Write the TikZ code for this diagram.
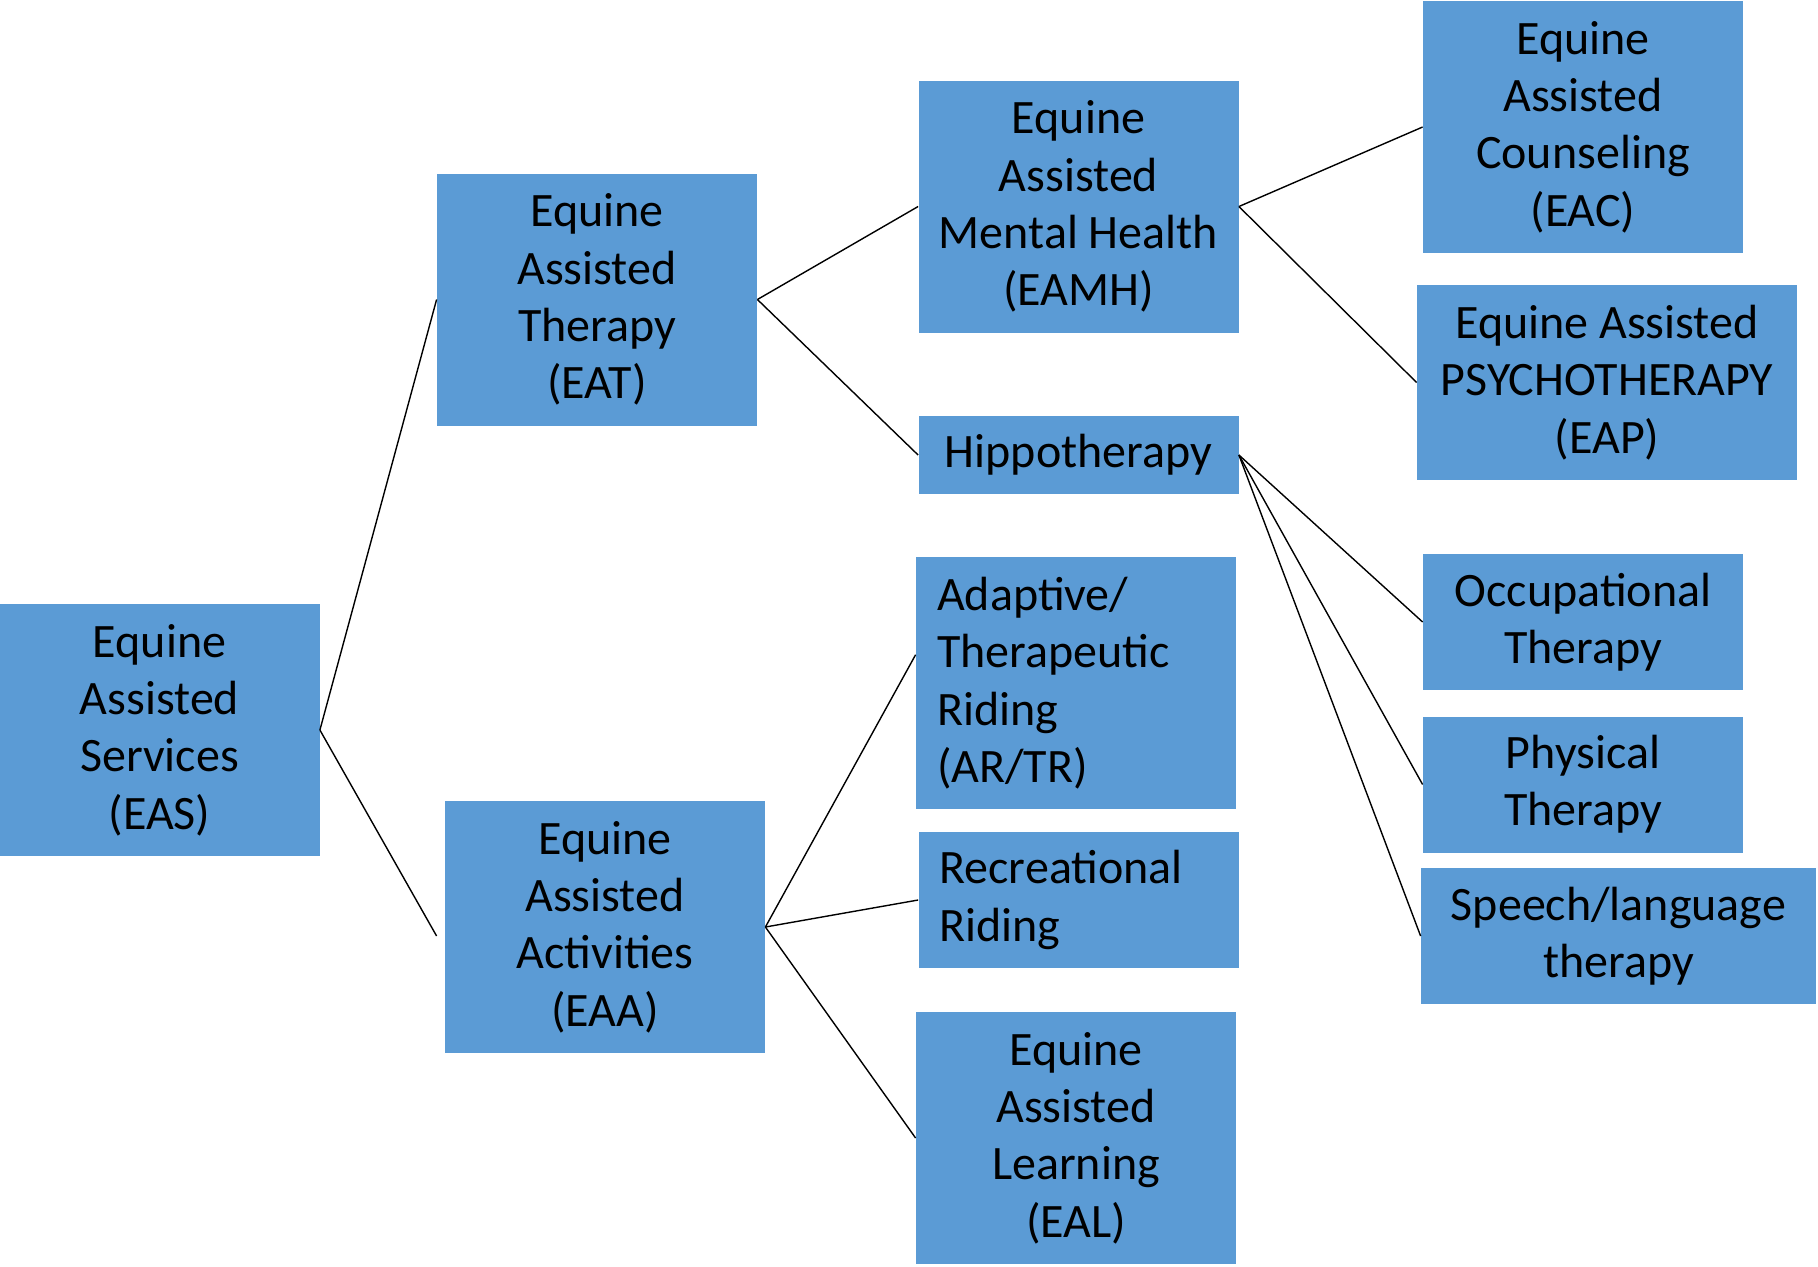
\documentclass[tikz,border=0pt]{standalone}
\usepackage{fontspec}
\setmainfont{Carlito}
\usetikzlibrary{positioning}
\definecolor{boxblue}{HTML}{5B9BD5}

\begin{document}
\begin{tikzpicture}[
    x=0.5pt, y=-0.5pt,
    box/.style={rectangle, fill=boxblue, inner sep=0pt, minimum width=160pt, minimum height=126pt, align=center, font=\fontsize{24}{28.65}\selectfont},
    short/.style={minimum height=68pt},
    leftbox/.style={align=left, text width=139pt, inner xsep=10.5pt},
    link/.style={-, line width=0.7pt, black}
]
\useasboundingbox (0,0) rectangle (1818,1266);

\node[box] (eas) at (159.5,730) {Equine\\Assisted\\Services\\(EAS)};
\node[box] (eat) at (597,299.5) {Equine\\Assisted\\Therapy\\(EAT)};
\node[box] (eaa) at (605,927) {Equine\\Assisted\\Activities\\(EAA)};

\node[box] (eamh) at (1078.5,206.5) {Equine\\Assisted\\Mental Health\\(EAMH)};
\node[box, minimum height=39pt] (hippo) at (1078.5,455) {Hippotherapy};
\node[box, leftbox] (artr) at (1076,683) {Adaptive/\\Therapeutic\\Riding\\(AR/TR)};
\node[box, short, leftbox] (recr) at (1078.5,900) {Recreational\\Riding};
\node[box] (eal) at (1076,1138) {Equine\\Assisted\\Learning\\(EAL)};

\node[box] (eac) at (1583,127) {Equine\\Assisted\\Counseling\\(EAC)};
\node[box, minimum width=190pt, minimum height=97.5pt] (eap) at (1607,382.5) {Equine Assisted\\PSYCHOTHERAPY\\(EAP)};
\node[box, short] (ot) at (1583,622) {Occupational\\Therapy};
\node[box, short] (pt) at (1583,784.5) {Physical\\Therapy};
\node[box, short, minimum width=197.5pt] (speech) at (1618.5,936) {Speech/language\\therapy};

\foreach \from/\to in {eas/eat, eat/eamh, eat/hippo, eaa/recr, eaa/eal, eamh/eac, eamh/eap, hippo/ot, hippo/pt, hippo/speech}
    \draw[link] (\from.east) -- (\to.west);

\draw[link] (eas.east) -- ([xshift=-4pt,yshift=-4.5pt]eaa.west);
\draw[link] (eaa.east) -- (artr.170);

\end{tikzpicture}
\end{document}
